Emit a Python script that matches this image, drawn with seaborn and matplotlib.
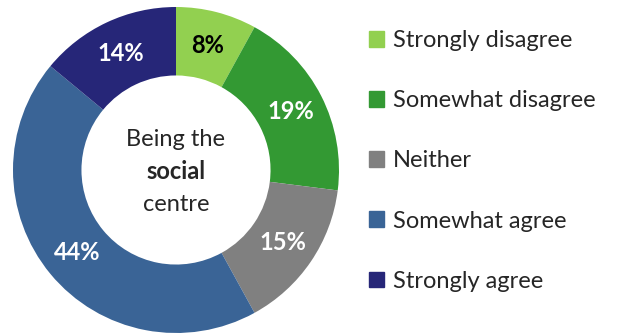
import matplotlib
matplotlib.use("Agg")
import matplotlib.pyplot as plt
import matplotlib.patches as mpatches
import seaborn as sns

categories = ["Strongly disagree", "Somewhat disagree", "Neither", "Somewhat agree", "Strongly agree"]
values = [8, 19, 15, 44, 14]
colors = ["#92D050", "#339933", "#808080", "#3A6496", "#262678"]
label_colors = ["black", "white", "white", "white", "white"]

sns.set_theme(style="white")
plt.rcParams["font.family"] = ["Lato", "DejaVu Sans"]

fig = plt.figure(figsize=(6.2, 3.35), dpi=100)
W, H = 620, 335
cx, cy, R = 176, 170, 163
ax = fig.add_axes([(cx - R) / W, (H - cy - R) / H, 2 * R / W, 2 * R / H])

ring = 0.42
wedges, texts = ax.pie(
    values, colors=colors, startangle=90, counterclock=False, radius=1,
    wedgeprops=dict(width=ring, edgecolor="none"),
    labels=[f"{v}%" for v in values], labeldistance=1 - ring / 2,
)
ax.set_xlim(-1, 1)
ax.set_ylim(-1, 1)
ax.set_aspect("equal")
ax.axis("off")
for t, c in zip(texts, label_colors):
    t.set_color(c)
    t.set_fontsize(17)
    t.set_fontweight("bold")
    t.set_ha("center")
    t.set_va("center")

ax.text(0, 0.19, "Being the", ha="center", va="center", fontsize=17)
ax.text(0, -0.01, "social", ha="center", va="center", fontsize=17, fontweight="bold")
ax.text(0, -0.21, "centre", ha="center", va="center", fontsize=17)

handles = [mpatches.Patch(color=c, label=l) for c, l in zip(colors, categories)]
fig.legend(
    handles=handles, loc="upper left", bbox_to_anchor=(369 / W, 1 - 30 / H),
    frameon=False, fontsize=17, handlelength=0.65, handleheight=0.65,
    handletextpad=0.35, labelspacing=1.66, borderaxespad=0, borderpad=0,
)

fig.savefig("out.png", dpi=100)
